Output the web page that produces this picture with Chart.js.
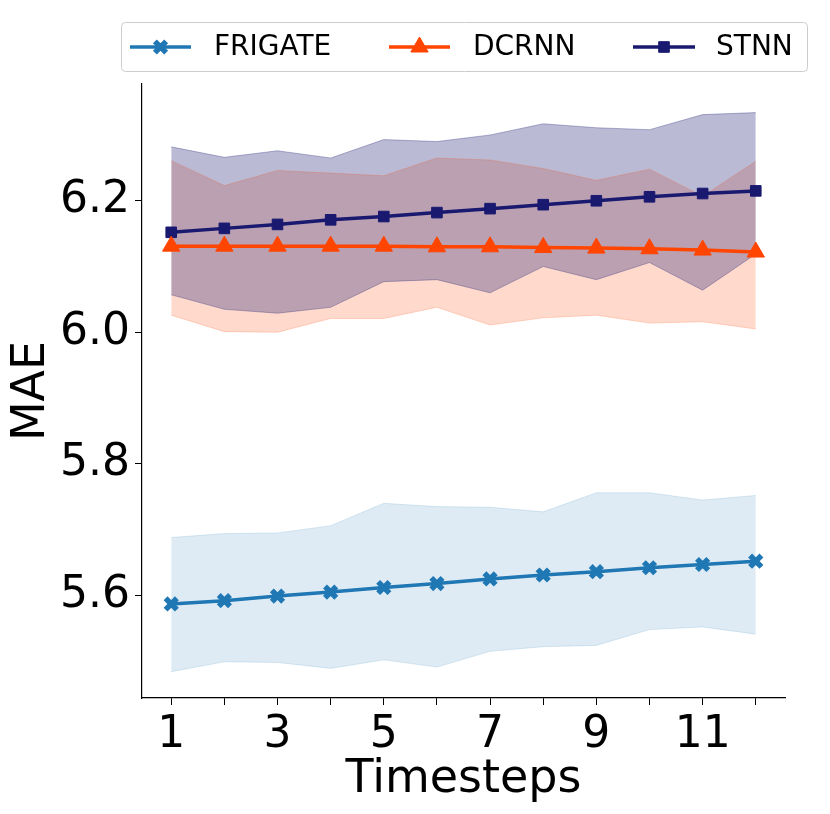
<!DOCTYPE html>
<html>
<head>
<meta charset="utf-8">
<script src="https://cdn.jsdelivr.net/npm/chart.js@4.4.0/dist/chart.umd.min.js"></script>
<style>
html, body { margin: 0; padding: 0; background: #fff; }
#wrap { width: 830px; height: 814px; }
</style>
</head>
<body>
<div id="wrap"><canvas id="maeChart" width="830" height="814"></canvas></div>
<script>
// timesteps and axis ticks
const timesteps = [1, 2, 3, 4, 5, 6, 7, 8, 9, 10, 11, 12];
const xTicks = [1, 2, 3, 4, 5, 6, 7, 8, 9, 10, 11, 12];
const yTicks = [5.6, 5.8, 6.0, 6.2];

// FRIGATE
const frigateMean  = [5.587, 5.592, 5.599, 5.605, 5.612, 5.618, 5.625, 5.631, 5.636, 5.642, 5.647, 5.652];
const frigateUpper = [5.688, 5.694, 5.695, 5.706, 5.740, 5.735, 5.734, 5.727, 5.756, 5.756, 5.745, 5.752];
const frigateLower = [5.484, 5.499, 5.498, 5.489, 5.502, 5.491, 5.515, 5.522, 5.524, 5.548, 5.552, 5.541];

// DCRNN
const dcrnnMean  = [6.131, 6.131, 6.131, 6.131, 6.131, 6.130, 6.130, 6.129, 6.128, 6.127, 6.125, 6.122];
const dcrnnUpper = [6.261, 6.223, 6.246, 6.242, 6.238, 6.265, 6.262, 6.249, 6.231, 6.248, 6.207, 6.260];
const dcrnnLower = [6.026, 6.001, 6.000, 6.021, 6.021, 6.038, 6.011, 6.022, 6.026, 6.014, 6.016, 6.005];

// STNN
const stnnMean  = [6.152, 6.158, 6.164, 6.171, 6.176, 6.182, 6.188, 6.194, 6.200, 6.206, 6.211, 6.215];
const stnnUpper = [6.282, 6.266, 6.276, 6.265, 6.293, 6.290, 6.300, 6.317, 6.311, 6.308, 6.331, 6.334];
const stnnLower = [6.057, 6.035, 6.029, 6.038, 6.077, 6.080, 6.060, 6.100, 6.080, 6.106, 6.064, 6.119];

const FONT = "'DejaVu Sans', sans-serif";

function pts(arr) {
    return timesteps.map((t, i) => ({ x: t, y: arr[i] }));
}

function lineSet(label, data, color, style, radius, bw) {
    return {
        label: label,
        data: pts(data),
        borderColor: color,
        backgroundColor: color,
        borderWidth: 3.5,
        pointStyle: style,
        pointRadius: radius,
        pointBorderWidth: bw,
        pointBorderColor: color,
        pointBackgroundColor: color,
        fill: false,
        tension: 0
    };
}

function bandSet(data, fillColor, toNext) {
    return {
        label: '',
        data: pts(data),
        borderColor: fillColor,
        backgroundColor: fillColor,
        borderWidth: 1,
        pointRadius: 0,
        fill: toNext ? '+1' : false,
        tension: 0
    };
}

const legendItems = [
    { text: 'FRIGATE', color: '#1f77b4', style: 'crossRot', radius: 8, bw: 5.5, x1: 130, x2: 191, tx: 214 },
    { text: 'DCRNN', color: '#ff4500', style: 'triangle', radius: 10, bw: 1, x1: 389, x2: 450, tx: 473 },
    { text: 'STNN', color: '#191970', style: 'rect', radius: 7.5, bw: 1, x1: 633, x2: 695, tx: 716 }
];

// legend box like matplotlib, drawn on top
const boxLegend = {
    id: 'boxLegend',
    afterDraw(chart) {
        const ctx = chart.ctx;
        const cy = 47;
        ctx.save();
        ctx.beginPath();
        ctx.roundRect(121.5, 22.5, 686, 49, 4);
        ctx.fillStyle = 'rgba(255,255,255,0.8)';
        ctx.fill();
        ctx.strokeStyle = '#cccccc';
        ctx.lineWidth = 1;
        ctx.stroke();
        legendItems.forEach(it => {
            ctx.beginPath();
            ctx.moveTo(it.x1, cy);
            ctx.lineTo(it.x2, cy);
            ctx.strokeStyle = it.color;
            ctx.lineWidth = 3.5;
            ctx.stroke();
            ctx.fillStyle = it.color;
            ctx.strokeStyle = it.color;
            ctx.lineWidth = it.bw;
            Chart.helpers.drawPoint(ctx, { pointStyle: it.style, radius: it.radius, borderWidth: it.bw, rotation: 0 }, (it.x1 + it.x2) / 2, cy);
            ctx.fillStyle = '#000';
            ctx.font = '28px ' + FONT;
            ctx.textBaseline = 'middle';
            ctx.textAlign = 'left';
            ctx.fillText(it.text, it.tx, cy + 1);
        });
        ctx.restore();
    }
};

const ctx = document.getElementById('maeChart').getContext('2d');

const myChart = new Chart(ctx, {
    type: 'line',
    data: {
        datasets: [
            lineSet('FRIGATE', frigateMean, '#1f77b4', 'crossRot', 8, 5.5),
            lineSet('DCRNN', dcrnnMean, '#ff4500', 'triangle', 10, 1),
            lineSet('STNN', stnnMean, '#191970', 'rect', 7.5, 1),
            bandSet(stnnUpper, 'rgba(25,25,112,0.3)', true),
            bandSet(stnnLower, 'rgba(25,25,112,0.3)', false),
            bandSet(dcrnnUpper, 'rgba(255,69,0,0.2)', true),
            bandSet(dcrnnLower, 'rgba(255,69,0,0.2)', false),
            bandSet(frigateUpper, 'rgba(31,119,180,0.15)', true),
            bandSet(frigateLower, 'rgba(31,119,180,0.15)', false)
        ]
    },
    options: {
        responsive: false,
        animation: false,
        devicePixelRatio: 1,
        layout: { padding: { top: 84, right: 45, left: 0, bottom: 0 } },
        plugins: {
            legend: { display: false },
            tooltip: { enabled: false },
            filler: { drawTime: 'beforeDatasetsDraw' }
        },
        scales: {
            x: {
                type: 'linear',
                min: 0.45,
                max: 12.55,
                afterBuildTicks: axis => { axis.ticks = xTicks.map(v => ({ value: v })); },
                afterFit: scale => { scale.height = 116; },
                ticks: {
                    callback: v => (v % 2 === 1 ? String(v) : ''),
                    font: { family: FONT, size: 44 },
                    color: '#000',
                    maxRotation: 0,
                    autoSkip: false,
                    padding: 4
                },
                grid: { drawOnChartArea: false, drawTicks: true, tickLength: 7, color: '#000', tickWidth: 1 },
                border: { color: '#000', width: 1.2 },
                title: {
                    display: true,
                    text: 'Timesteps',
                    font: { family: FONT, size: 46 },
                    color: '#000',
                    padding: { top: 0, bottom: 6 }
                }
            },
            y: {
                min: 5.444,
                max: 6.3775,
                afterBuildTicks: axis => { axis.ticks = yTicks.map(v => ({ value: v })); },
                afterFit: scale => { scale.width = 142; },
                ticks: {
                    callback: v => v.toFixed(1),
                    font: { family: FONT, size: 44 },
                    color: '#000',
                    padding: 5
                },
                grid: { drawOnChartArea: false, drawTicks: true, tickLength: 7, color: '#000', tickWidth: 1 },
                border: { color: '#000', width: 1.2 },
                title: {
                    display: true,
                    text: 'MAE',
                    font: { family: FONT, size: 46 },
                    color: '#000',
                    padding: { top: 4, bottom: 0 }
                }
            }
        }
    },
    plugins: [boxLegend]
});
</script>
</body>
</html>
